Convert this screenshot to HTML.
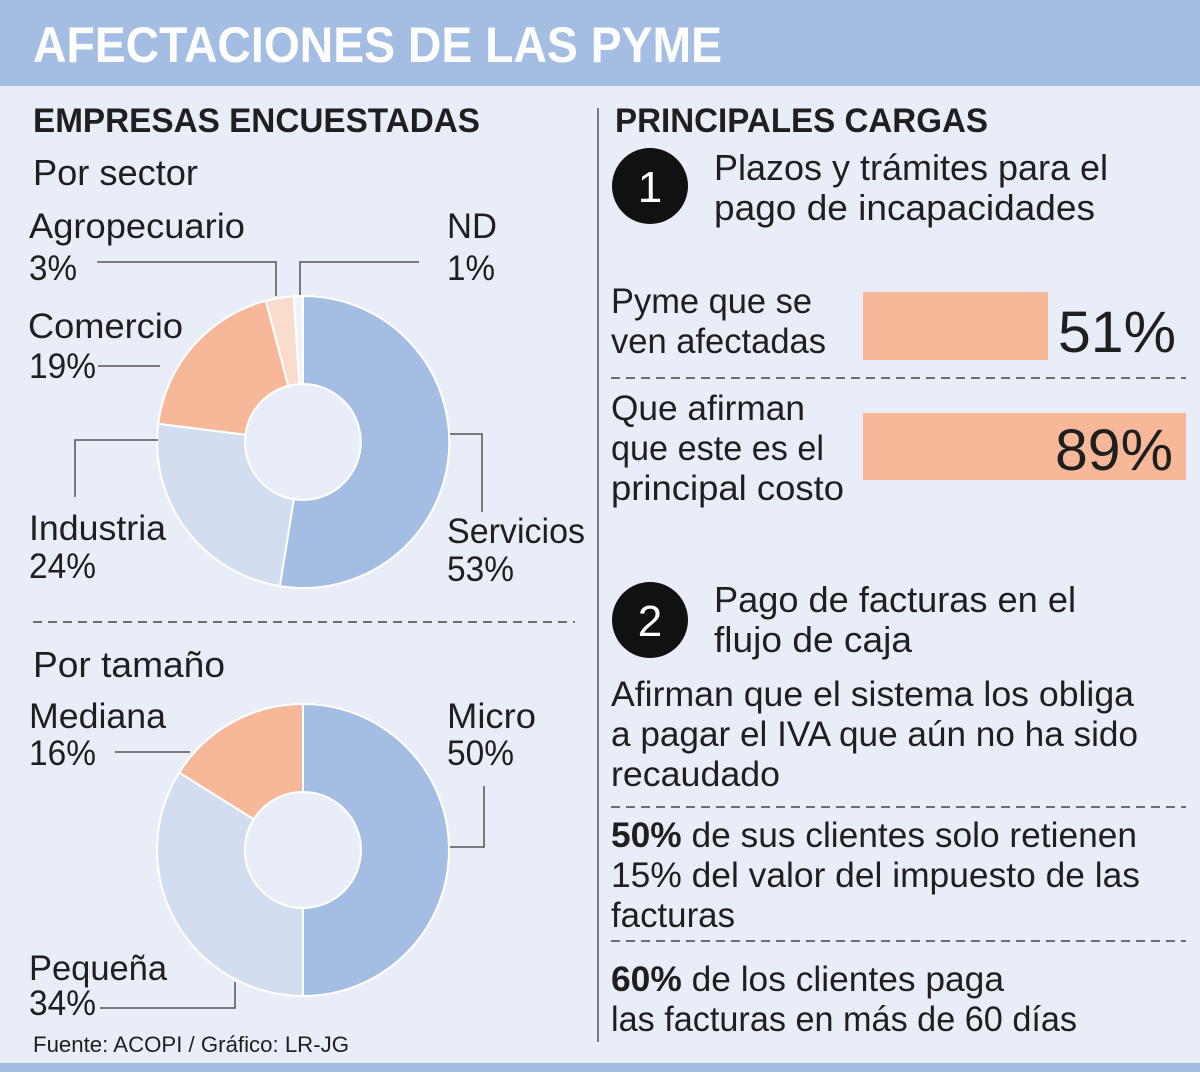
<!DOCTYPE html>
<html><head><meta charset="utf-8"><style>
html,body{margin:0;padding:0;background:#e8edf7}
svg{display:block}
text{font-family:"Liberation Sans",sans-serif;fill:#1f1f1f}
.b{font-weight:bold}
</style></head><body>
<svg width="1200" height="1072" viewBox="0 0 1200 1072" xmlns="http://www.w3.org/2000/svg">
<rect width="1200" height="1072" fill="#e8edf7"/>
<rect width="1200" height="86" fill="#a3bde3"/>
<rect y="1063" width="1200" height="9" fill="#a3bde3"/>
<text x="33" y="62" font-size="50" class="b" style="fill:#fff" textLength="689" lengthAdjust="spacingAndGlyphs">AFECTACIONES DE LAS PYME</text>

<text x="33" y="132" font-size="34" class="b" textLength="447" lengthAdjust="spacingAndGlyphs">EMPRESAS ENCUESTADAS</text>
<text x="33" y="185" font-size="36" textLength="165" lengthAdjust="spacingAndGlyphs">Por sector</text>

<g font-size="35" fill="none">
<text x="29" y="238" textLength="216" lengthAdjust="spacingAndGlyphs">Agropecuario</text>
<text x="29" y="280" textLength="48" lengthAdjust="spacingAndGlyphs">3%</text>
<text x="447" y="238" textLength="50" lengthAdjust="spacingAndGlyphs">ND</text>
<text x="447" y="280" textLength="48" lengthAdjust="spacingAndGlyphs">1%</text>
<text x="28" y="338" textLength="155" lengthAdjust="spacingAndGlyphs">Comercio</text>
<text x="29" y="378" textLength="67" lengthAdjust="spacingAndGlyphs">19%</text>
<text x="29" y="540" textLength="137" lengthAdjust="spacingAndGlyphs">Industria</text>
<text x="29" y="578" textLength="67" lengthAdjust="spacingAndGlyphs">24%</text>
<text x="447" y="543" textLength="138" lengthAdjust="spacingAndGlyphs">Servicios</text>
<text x="447" y="581" textLength="67" lengthAdjust="spacingAndGlyphs">53%</text>
</g>

<!-- donut 1 -->
<g stroke="#fff" stroke-width="2">
<path d="M303,296 A146,146 0 1 1 279.8,586.1 L293.8,499.3 A58,58 0 1 0 303,384 Z" fill="#a3bde3"/>
<path d="M279.8,586.1 A146,146 0 0 1 158.2,423.7 L245.5,434.7 A58,58 0 0 0 293.8,499.3 Z" fill="#d2ddf0"/>
<path d="M158.2,423.7 A146,146 0 0 1 265.9,300.8 L288.3,385.9 A58,58 0 0 0 245.5,434.7 Z" fill="#f7b89a"/>
<path d="M265.9,300.8 A146,146 0 0 1 293.8,296.3 L299.4,384.1 A58,58 0 0 0 288.3,385.9 Z" fill="#fadccd"/>
<path d="M293.8,296.3 A146,146 0 0 1 303,296 L303,384 A58,58 0 0 0 299.4,384.1 Z" fill="#eef2f9"/>
</g>

<g stroke="#555" stroke-width="1.5" fill="none">
<polyline points="97,262 276,262 276,296"/>
<polyline points="419,262 300,262 300,295"/>
<polyline points="98,366 160,366"/>
<polyline points="75,497 75,440 158,440"/>
<polyline points="450,434 482,434 482,512"/>
<polyline points="115,752 190,752"/>
<polyline points="448,847 484,847 484,786"/>
<polyline points="100,1008 235,1008 235,982"/>
</g>

<line x1="33" y1="622" x2="575" y2="622" stroke="#444" stroke-width="1.5" stroke-dasharray="9,6"/>
<text x="33" y="677" font-size="36" textLength="192" lengthAdjust="spacingAndGlyphs">Por tamaño</text>

<g font-size="35">
<text x="29" y="728" textLength="137" lengthAdjust="spacingAndGlyphs">Mediana</text>
<text x="29" y="765" textLength="67" lengthAdjust="spacingAndGlyphs">16%</text>
<text x="447" y="728" textLength="89" lengthAdjust="spacingAndGlyphs">Micro</text>
<text x="447" y="765" textLength="67" lengthAdjust="spacingAndGlyphs">50%</text>
<text x="29" y="980" textLength="138" lengthAdjust="spacingAndGlyphs">Pequeña</text>
<text x="29" y="1015" textLength="67" lengthAdjust="spacingAndGlyphs">34%</text>
</g>

<!-- donut 2 -->
<g stroke="#fff" stroke-width="2">
<path d="M303,704 A146,146 0 0 1 303,996 L303,908 A58,58 0 0 0 303,792 Z" fill="#a3bde3"/>
<path d="M303,996 A146,146 0 0 1 179.2,772.6 L253.8,819.2 A58,58 0 0 0 303,908 Z" fill="#d2ddf0"/>
<path d="M179.2,772.6 A146,146 0 0 1 303,704 L303,792 A58,58 0 0 0 253.8,819.2 Z" fill="#f7b89a"/>
</g>

<text x="33" y="1052" font-size="22" textLength="316" lengthAdjust="spacingAndGlyphs">Fuente: ACOPI / Gráfico: LR-JG</text>

<line x1="598" y1="108" x2="598" y2="1042" stroke="#555" stroke-width="1.5"/>

<text x="615" y="132" font-size="34" class="b" textLength="373" lengthAdjust="spacingAndGlyphs">PRINCIPALES CARGAS</text>
<circle cx="650" cy="186" r="38" fill="#111"/>
<text x="650" y="202" font-size="44" text-anchor="middle" style="fill:#fff">1</text>
<g font-size="36">
<text x="714" y="180" textLength="394" lengthAdjust="spacingAndGlyphs">Plazos y trámites para el</text>
<text x="714" y="220" textLength="381" lengthAdjust="spacingAndGlyphs">pago de incapacidades</text>
</g>
<g font-size="35">
<text x="611" y="313" textLength="201" lengthAdjust="spacingAndGlyphs">Pyme que se</text>
<text x="611" y="353" textLength="215" lengthAdjust="spacingAndGlyphs">ven afectadas</text>
<text x="611" y="420" textLength="194" lengthAdjust="spacingAndGlyphs">Que afirman</text>
<text x="611" y="460" textLength="213" lengthAdjust="spacingAndGlyphs">que este es el</text>
<text x="611" y="500" textLength="233" lengthAdjust="spacingAndGlyphs">principal costo</text>
</g>
<rect x="863" y="292" width="185" height="68" fill="#f7b89a"/>
<text x="1058" y="352" font-size="58" textLength="118" lengthAdjust="spacingAndGlyphs">51%</text>
<line x1="611" y1="378" x2="1186" y2="378" stroke="#444" stroke-width="1.5" stroke-dasharray="9,6"/>
<rect x="863" y="413" width="323" height="67" fill="#f7b89a"/>
<text x="1055" y="470" font-size="58" textLength="118" lengthAdjust="spacingAndGlyphs">89%</text>

<circle cx="650" cy="620" r="38" fill="#111"/>
<text x="650" y="636" font-size="44" text-anchor="middle" style="fill:#fff">2</text>
<g font-size="36">
<text x="714" y="612" textLength="362" lengthAdjust="spacingAndGlyphs">Pago de facturas en el</text>
<text x="714" y="652" textLength="198" lengthAdjust="spacingAndGlyphs">flujo de caja</text>
</g>
<g font-size="35">
<text x="611" y="706" textLength="523" lengthAdjust="spacingAndGlyphs">Afirman que el sistema los obliga</text>
<text x="611" y="746" textLength="527" lengthAdjust="spacingAndGlyphs">a pagar el IVA que aún no ha sido</text>
<text x="611" y="786" textLength="169" lengthAdjust="spacingAndGlyphs">recaudado</text>
<text x="611" y="847" textLength="526" lengthAdjust="spacingAndGlyphs"><tspan class="b">50%</tspan> de sus clientes solo retienen</text>
<text x="611" y="887" textLength="529" lengthAdjust="spacingAndGlyphs">15% del valor del impuesto de las</text>
<text x="611" y="927" textLength="124" lengthAdjust="spacingAndGlyphs">facturas</text>
<text x="611" y="991" textLength="393" lengthAdjust="spacingAndGlyphs"><tspan class="b">60%</tspan> de los clientes paga</text>
<text x="611" y="1031" textLength="466" lengthAdjust="spacingAndGlyphs">las facturas en más de 60 días</text>
</g>
<line x1="611" y1="807" x2="1186" y2="807" stroke="#444" stroke-width="1.5" stroke-dasharray="9,6"/>
<line x1="611" y1="941" x2="1186" y2="941" stroke="#444" stroke-width="1.5" stroke-dasharray="9,6"/>
</svg>
</body></html>
